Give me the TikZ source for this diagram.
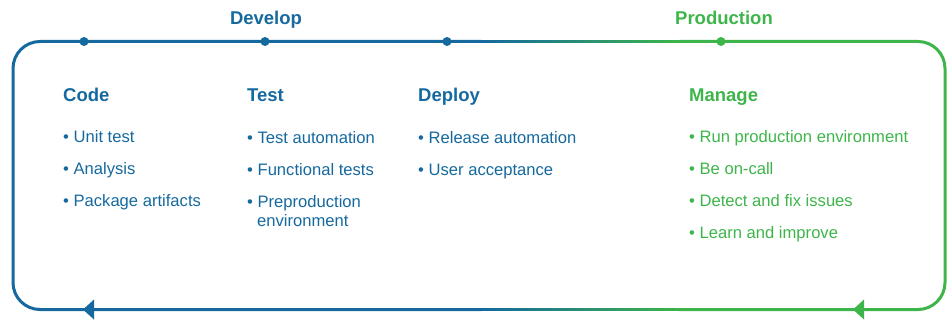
\documentclass[tikz,border=0pt]{standalone}
\usepackage{fontspec}
\setmainfont{Liberation Sans}
\definecolor{cblue}{RGB}{21,105,158}
\definecolor{cgreen}{RGB}{61,181,74}
\begin{document}
\begin{tikzpicture}[x=1pt,y=-1pt,
  loop/.style={line width=3pt,rounded corners=27pt},
  dot/.style={circle,inner sep=0pt,minimum size=9pt},
  phase/.style={font=\fontsize{18.5}{20}\selectfont\bfseries,anchor=base,inner sep=0pt},
  head/.style={font=\fontsize{18.5}{20}\selectfont\bfseries,anchor=base west,inner sep=0pt},
  item/.style={font=\fontsize{16.6}{20}\selectfont,anchor=base west,inner sep=0pt,align=left}]
\useasboundingbox (0,0) rectangle (952,321);
% loop
\coordinate (tl) at (481,41.5);
\coordinate (bl) at (481,309.5);
\coordinate (tr) at (679,41.5);
\coordinate (br) at (679,309.5);
\draw[loop,cblue] (tl) -| (13,175) |- (bl);
\draw[loop,cgreen] (tr) -| (945,175) |- (br);
\foreach \i in {0,...,39} {
  \pgfmathsetmacro\p{100-\i*2.5}
  \draw[line width=3pt,cblue!\p!cgreen] (480+\i*5,41.5) -- (486+\i*5,41.5);
  \draw[line width=3pt,cblue!\p!cgreen] (480+\i*5,309.5) -- (486+\i*5,309.5);
}
% arrowheads
\fill[cblue] (83,309.5) -- (94,299.5) -- (94,319.5) -- cycle;
\fill[cgreen] (853,309.5) -- (864,299.5) -- (864,319.5) -- cycle;
% dots
\node[dot,fill=cblue] (d1) at (84,41.5) {};
\node[dot,fill=cblue] (d2) at (265,41.5) {};
\node[dot,fill=cblue] (d3) at (447,41.5) {};
\node[dot,fill=cgreen] (d4) at (721,41.5) {};
% phase labels
\node[phase,text=cblue] (develop) at (266,25) {Develop};
\node[phase,text=cgreen] (production) at (724,25) {Production};
% Code
\node[head,text=cblue] (code) at (63,101) {Code};
\node[item,text=cblue] (c1) at (63,142) {•\ Unit test};
\node[item,text=cblue] (c2) at (63,174) {•\ Analysis};
\node[item,text=cblue] (c3) at (63,206) {•\ Package artifacts};
% Test
\node[head,text=cblue] (test) at (247,101) {Test};
\node[item,text=cblue] (t1) at (247,143) {•\ Test automation};
\node[item,text=cblue] (t2) at (247,175) {•\ Functional tests};
\node[item,text=cblue] (t3) at (247,207) {•\ Preproduction};
\node[item,text=cblue] (t4) at (257,226) {environment};
% Deploy
\node[head,text=cblue] (deploy) at (418,101) {Deploy};
\node[item,text=cblue] (p1) at (418,143) {•\ Release automation};
\node[item,text=cblue] (p2) at (418,175) {•\ User acceptance};
% Manage
\node[head,text=cgreen] (manage) at (689,101) {Manage};
\node[item,text=cgreen] (m1) at (689,142) {•\ Run production environment};
\node[item,text=cgreen] (m2) at (689,174) {•\ Be on-call};
\node[item,text=cgreen] (m3) at (689,206) {•\ Detect and fix issues};
\node[item,text=cgreen] (m4) at (689,238) {•\ Learn and improve};
\end{tikzpicture}
\end{document}
